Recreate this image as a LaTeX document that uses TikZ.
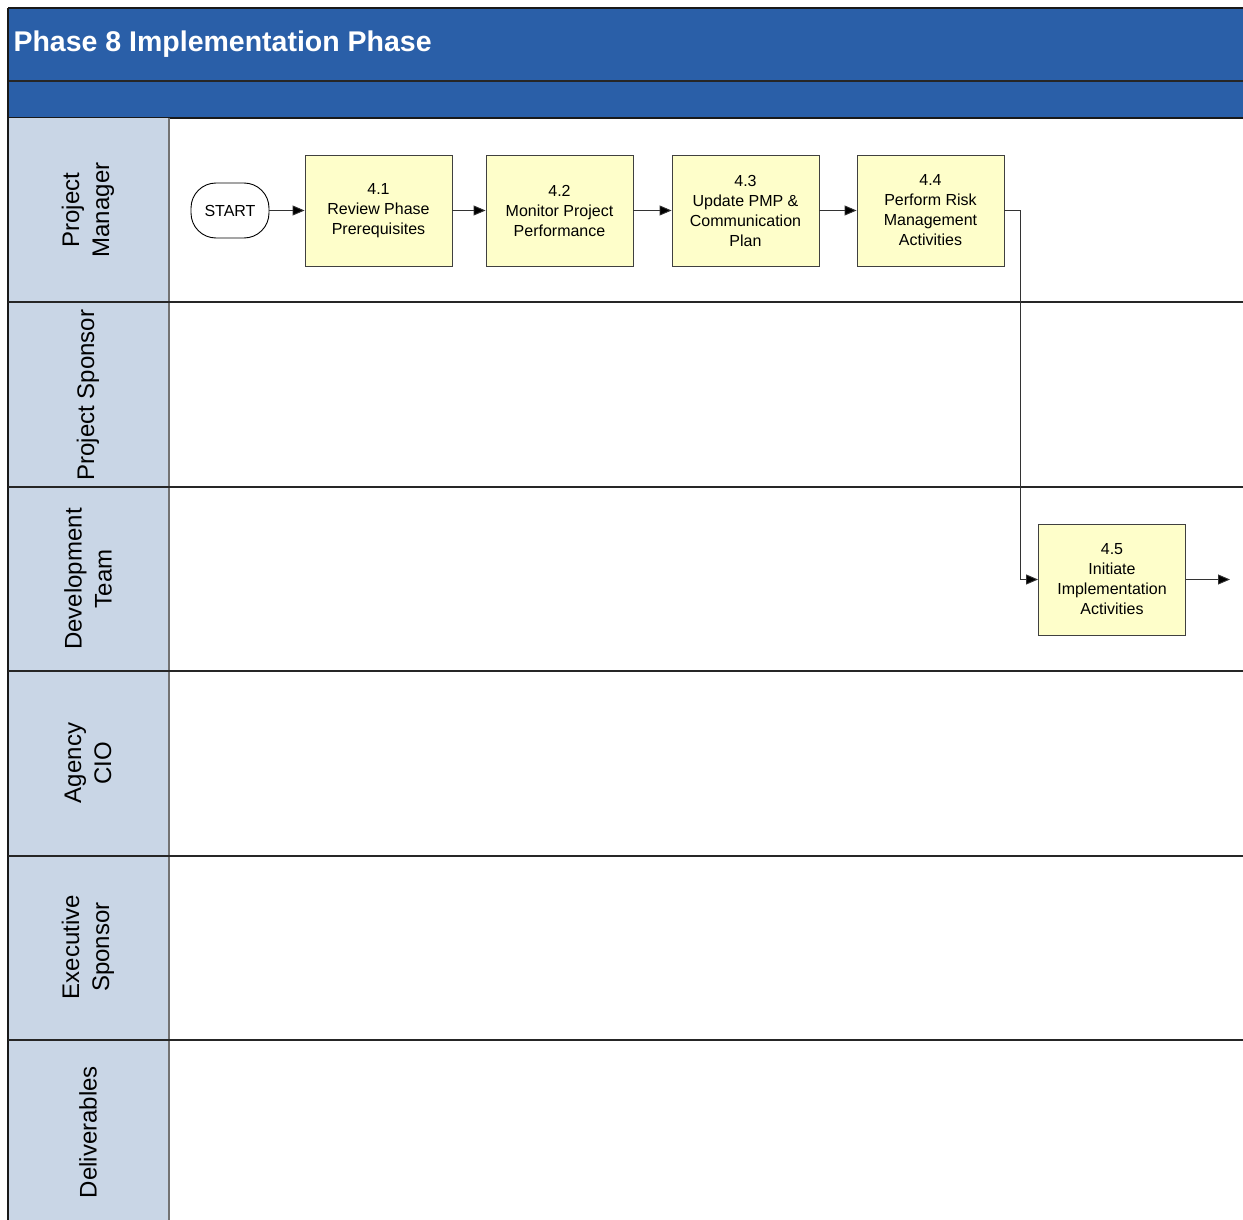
\documentclass[tikz,border=0pt]{standalone}
\usepackage{fontspec}
\setmainfont{Liberation Sans}
\usetikzlibrary{arrows.meta,shapes.misc}
\definecolor{hdrblue}{HTML}{2A5FA8}
\definecolor{lanegray}{HTML}{C9D6E6}
\definecolor{boxyellow}{HTML}{FEFECA}
\tikzset{
  procbox/.style={draw=black!75, line width=0.9pt, fill=boxyellow, minimum width=147pt, minimum height=111pt, align=center, font=\fontsize{16}{20}\selectfont, inner sep=2pt},
  startbox/.style={draw=black, line width=0.9pt, fill=white, rectangle, rounded corners=25pt, minimum width=78pt, minimum height=55pt, font=\fontsize{16}{20}\selectfont},
  lanelabel/.style={rotate=90, align=center, font=\fontsize{24}{30}\selectfont},
  flow/.style={line width=0.9pt, black!80, -{Triangle[length=12pt,width=10pt,fill=black]}},
  sepline/.style={line width=1.3pt, black!85}
}
\begin{document}
\begin{tikzpicture}[x=1pt,y=-1pt]
\useasboundingbox (0,0) rectangle (1243,1220);
% header
\fill[hdrblue] (8,8) rectangle (1243,118);
\draw[line width=2pt, black!90] (8,8) -- (1243,8);
\draw[sepline] (8,81) -- (1243,81);
\draw[line width=2pt, black!90] (8,118) -- (1243,118);
\node[anchor=west, text=white, font=\fontsize{28.5}{32}\selectfont\bfseries] (title) at (10,44) {Phase 8 Implementation Phase};
% lane header column
\fill[lanegray] (8,118) rectangle (169,1220);
\draw[line width=1.5pt, black!90] (8,8) -- (8,1220);
\draw[line width=1.5pt, black!55] (169,118) -- (169,1220);
\foreach \yy in {302,487,671,856,1040} {\draw[sepline] (8,\yy) -- (1243,\yy);}
% lane labels
\node[lanelabel] (l1) at (88,210) {Project\\Manager};
\node[lanelabel] (l2) at (88,395) {Project Sponsor};
\node[lanelabel] (l3) at (88,579) {Development\\Team};
\node[lanelabel] (l4) at (88,763) {Agency\\CIO};
\node[lanelabel] (l5) at (88,947) {Executive\\Sponsor};
\node[lanelabel] (l6) at (88,1132) {Deliverables};
% nodes
\node[startbox] (start) at (230,210.5) {START};
\node[procbox] (n41) at (378.5,210.5) {4.1\\Review Phase\\Prerequisites};
\node[procbox] (n42) at (559.5,210.5) {4.2\\Monitor Project\\Performance};
\node[procbox] (n43) at (745.5,210.5) {4.3\\Update PMP \&\\Communication\\Plan};
\node[procbox] (n44) at (930.5,210.5) {4.4\\Perform Risk\\Management\\Activities};
\node[procbox] (n45) at (1112,579.5) {4.5\\Initiate\\Implementation\\Activities};
\coordinate (endpt) at (1230,579.5);
% connectors
\draw[flow] (start) -- (n41);
\draw[flow] (n41) -- (n42);
\draw[flow] (n42) -- (n43);
\draw[flow] (n43) -- (n44);
\draw[flow] (n44.east) -- (1020,210.5) |- (n45.west);
\draw[flow] (n45.east) -- (endpt);
\end{tikzpicture}
\end{document}
